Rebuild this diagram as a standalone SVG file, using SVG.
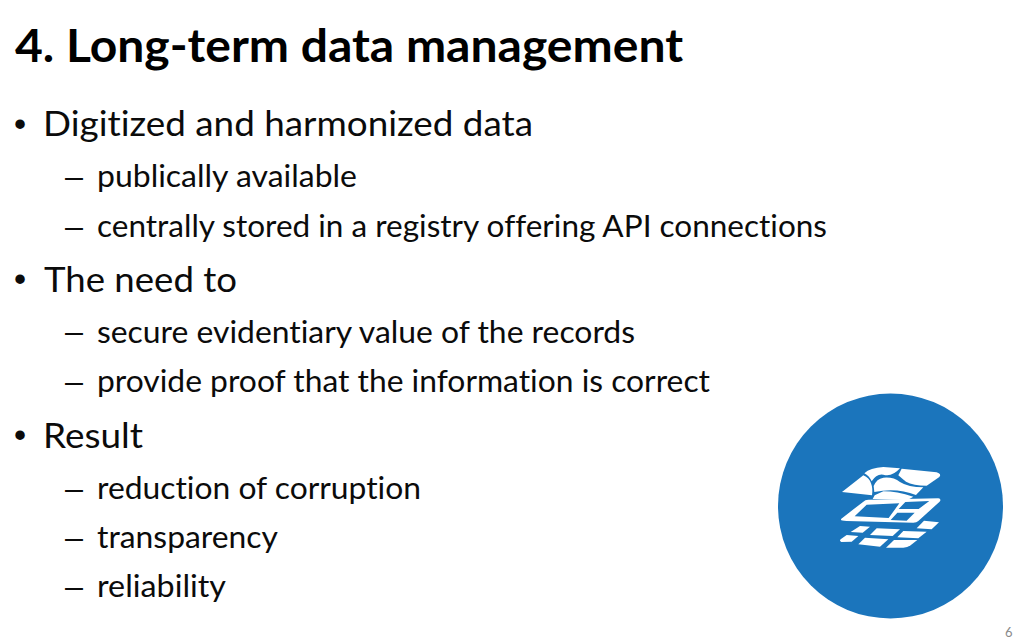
<svg xmlns="http://www.w3.org/2000/svg" width="1024" height="640" viewBox="0 0 1024 640">
<style>
text{font-family:"Lato","Liberation Sans",sans-serif;fill:#0b0b0b;font-variant-ligatures:none}
.t{font-size:45px;font-weight:700;fill:#000}
.a{font-size:34.5px}
.b{font-size:30.5px}
.m{font-family:"Liberation Sans",sans-serif}
.ic{fill:#fff}
</style>
<rect width="1024" height="640" fill="#fff"/>
<text class="t" x="15" y="62" textLength="668" lengthAdjust="spacingAndGlyphs">4. Long-term data management</text>
<g id="list">
<text class="a m" x="14" y="136">•</text>
<text class="a" x="43" y="136" textLength="490" lengthAdjust="spacingAndGlyphs">Digitized and harmonized data</text>
<text class="b m" x="65" y="187" textLength="18" lengthAdjust="spacingAndGlyphs">–</text>
<text class="b" x="97" y="187" textLength="260" lengthAdjust="spacingAndGlyphs">publically available</text>
<text class="b m" x="65" y="237" textLength="18" lengthAdjust="spacingAndGlyphs">–</text>
<text class="b" x="97" y="237" textLength="730" lengthAdjust="spacingAndGlyphs">centrally stored in a registry offering API connections</text>
<text class="a m" x="14" y="291">•</text>
<text class="a" x="44" y="292" textLength="193" lengthAdjust="spacingAndGlyphs">The need to</text>
<text class="b m" x="65" y="342" textLength="18" lengthAdjust="spacingAndGlyphs">–</text>
<text class="b" x="97" y="343" textLength="538" lengthAdjust="spacingAndGlyphs">secure evidentiary value of the records</text>
<text class="b m" x="65" y="392" textLength="18" lengthAdjust="spacingAndGlyphs">–</text>
<text class="b" x="97" y="392" textLength="613" lengthAdjust="spacingAndGlyphs">provide proof that the information is correct</text>
<text class="a m" x="14" y="447">•</text>
<text class="a" x="43" y="448" textLength="100" lengthAdjust="spacingAndGlyphs">Result</text>
<text class="b m" x="65" y="499" textLength="18" lengthAdjust="spacingAndGlyphs">–</text>
<text class="b" x="97" y="499" textLength="324" lengthAdjust="spacingAndGlyphs">reduction of corruption</text>
<text class="b m" x="65" y="548" textLength="18" lengthAdjust="spacingAndGlyphs">–</text>
<text class="b" x="97" y="548" textLength="181" lengthAdjust="spacingAndGlyphs">transparency</text>
<text class="b m" x="65" y="597" textLength="18" lengthAdjust="spacingAndGlyphs">–</text>
<text class="b" x="97" y="597" textLength="129" lengthAdjust="spacingAndGlyphs">reliability</text>
</g>
<g id="icon">
<circle cx="890.5" cy="506" r="112.5" fill="#1b75bc"/>
<g transform="translate(820 450) scale(.3333)" class="ic">
<path d="M66 126 L130 76 Q148 84 153 100 Q159 115 156 136 Z"/>
<path d="M133 70 Q150 53 190 51 L240 55 Q216 82 190 74 Q170 70 155 94 Q148 78 133 70Z"/>
<path d="M245 56 L350 67 Q366 72 358 81 L320 107 Q280 107 258 95 Q245 85 235 76 Z"/>
<path d="M161 108 Q170 86 190 83 Q220 80 240 96 Q265 112 310 112 L288 135 Q230 112 163 126 Z"/>
<path d="M164 136 L190 124 Q230 124 280 140 L264 149 L158 147 Z"/>
<path fill-rule="evenodd" d="M64 206 L130 155 Q135 149 145 149 L355 145 Q366 147 358 156 L295 213 Q290 218 280 218 L80 213 Q58 213 64 206 Z M104 199 L140 164 L238 160 L206 204 Z M256 156 L328 153 L296 177 L236 177 Z M232 188 L284 188 L260 212 L212 210 Z"/>
<path d="M120 228 L150 230 L128 248 L92 246 Z"/>
<path d="M170 235 L240 238 L218 258 L150 255 Z"/>
<path d="M250 243 L320 245 L295 265 L232 262 Z"/>
<path d="M312 212 L357 217 L335 238 L290 235 Z"/>
<path d="M80 255 L115 258 L95 275 L64 276 Q57 272 62 268 Z"/>
<path d="M135 263 L205 268 L180 290 L115 283 Z"/>
<path d="M222 270 L292 270 L272 286 Q262 293 250 293 L198 293 Z"/>
</g>
</g>
<text x="1005" y="637" font-size="13" style="fill:#8a8a8a">6</text>
</svg>
